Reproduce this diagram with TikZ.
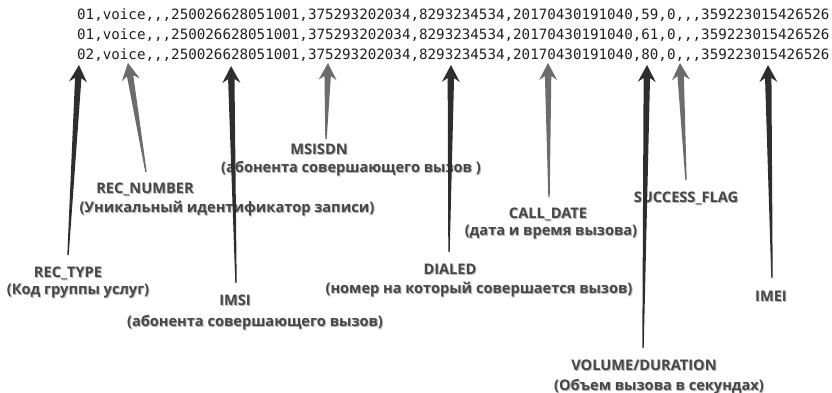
\documentclass[tikz,border=0pt]{standalone}
\usepackage{fontspec}
\setmainfont{Open Sans}
\newfontfamily\monofont{DejaVu Sans Mono}
\usetikzlibrary{calc}
\definecolor{darkarr}{HTML}{2E2E2E}
\definecolor{midarr}{HTML}{6C6C6C}
\definecolor{lbl}{HTML}{474747}
\newcommand\shd[1]{\makebox[0pt][l]{\hspace{1pt}\raisebox{-1pt}{\color{black!28}#1}}#1}
\newcommand\taparrow[3]{%
  \path ($(#2)!17pt!(#1)$) coordinate (tb) ($(#2)!13pt!(#1)$) coordinate (tj);
  \fill[#3] ($(#1)!0.7pt!90:(#2)$) -- ($(tj)!3.2pt!90:(#2)$) -- ($(tb)!9pt!90:(#2)$) -- (#2)
    -- ($(tb)!9pt!-90:(#2)$) -- ($(tj)!3.2pt!-90:(#2)$) -- ($(#1)!0.7pt!-90:(#2)$) -- cycle;}
\tikzset{
  datarow/.style={font=\monofont\fontsize{14.2}{14.2}\selectfont, anchor=base west, inner sep=0pt, text=black!88},
  lab/.style={font=\bfseries\fontsize{14.6}{14.6}\selectfont, text=lbl, inner sep=0pt, anchor=base},
}
\begin{document}
\begin{tikzpicture}[x=1pt,y=-1pt]
\useasboundingbox[fill=white] (0,0) rectangle (832,393);
% data rows
\node[datarow] (r1) at (77,20) {01,voice,,,250026628051001,375293202034,8293234534,20170430191040,59,0,,,359223015426526};
\node[datarow] (r2) at (77,40) {01,voice,,,250026628051001,375293202034,8293234534,20170430191040,61,0,,,359223015426526};
\node[datarow] (r3) at (77,60) {02,voice,,,250026628051001,375293202034,8293234534,20170430191040,80,0,,,359223015426526};
% labels
\node[lab] (rectype) at (68,277) {\shd{REC\_TYPE}};
\node[lab] (rectypeD) at (78,294) {\shd{(Код группы услуг)}};
\node[lab] (recnum) at (145,193) {\shd{REC\_NUMBER}};
\node[lab] (recnumD) at (227,212) {\shd{(Уникальный идентификатор записи)}};
\node[lab] (msisdn) at (319,154) {\shd{MSISDN}};
\node[lab] (msisdnD) at (351,172) {\shd{(абонента совершающего вызов )}};
\node[lab] (calldate) at (548,218) {\shd{CALL\_DATE}};
\node[lab] (calldateD) at (551,235) {\shd{(дата и время вызова)}};
\node[lab] (flag) at (686,202) {\shd{SUCCESS\_FLAG}};
\node[lab] (imsi) at (235,305) {\shd{IMSI}};
\node[lab] (imsiD) at (255,326) {\shd{(абонента совершающего вызов)}};
\node[lab] (dialed) at (450,274) {\shd{DIALED}};
\node[lab] (dialedD) at (479,293) {\shd{(номер на который совершается вызов)}};
\node[lab] (imei) at (771,301) {\shd{IMEI}};
\node[lab] (volume) at (644,370) {\shd{VOLUME/DURATION}};
\node[lab] (volumeD) at (659,390) {\shd{(Объем вызова в секундах)}};
% arrow ends
\coordinate (rectypeT) at (68,255);  \coordinate (rectypeH) at (79,65);
\coordinate (recnumT) at (146,172);  \coordinate (recnumH) at (128,63);
\coordinate (imsiT) at (236,283);    \coordinate (imsiH) at (231,66);
\coordinate (msisdnT) at (326,139);  \coordinate (msisdnH) at (328,63);
\coordinate (dialedT) at (449,252);  \coordinate (dialedH) at (451,65);
\coordinate (calldateT) at (549,197);\coordinate (calldateH) at (548,63);
\coordinate (volumeT) at (643,348);  \coordinate (volumeH) at (647,65);
\coordinate (flagT) at (686,180);    \coordinate (flagH) at (680,63);
\coordinate (imeiT) at (772,278);    \coordinate (imeiH) at (768,65);
\taparrow{rectypeT}{rectypeH}{darkarr}
\taparrow{recnumT}{recnumH}{midarr}
\taparrow{imsiT}{imsiH}{darkarr}
\taparrow{msisdnT}{msisdnH}{midarr}
\taparrow{dialedT}{dialedH}{darkarr}
\taparrow{calldateT}{calldateH}{midarr}
\taparrow{volumeT}{volumeH}{darkarr}
\taparrow{flagT}{flagH}{midarr}
\taparrow{imeiT}{imeiH}{darkarr}
\end{tikzpicture}
\end{document}
